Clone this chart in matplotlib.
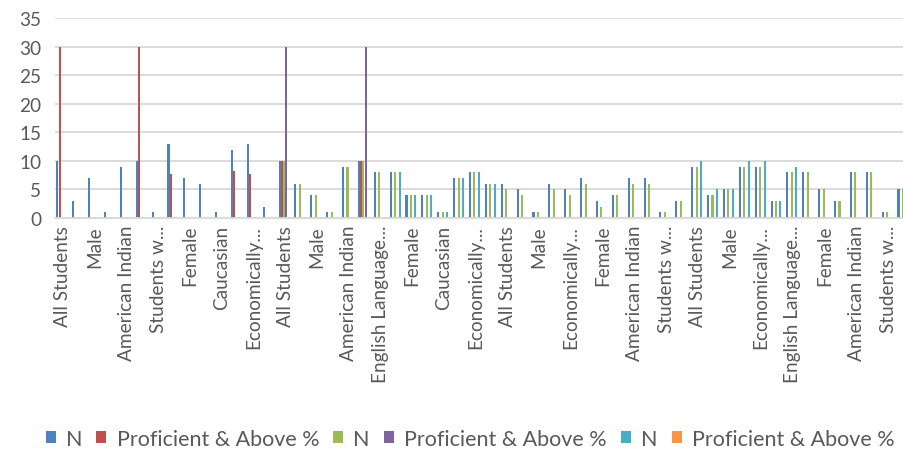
import numpy as np
import matplotlib
matplotlib.use("Agg")
import matplotlib.pyplot as plt
from matplotlib.patches import Patch

plt.rcParams['font.family'] = ['Lato', 'DejaVu Sans']

categories = [
    "All Students", "Female", "Male", "Hispanic", "American Indian", "All Students",
    "Students w...", "All Students", "Female", "Male", "Caucasian", "Students w...",
    "Economically...", "English Language...",
    "All Students", "Female", "Male", "Caucasian", "American Indian", "All Students",
    "English Language...", "All Students", "Female", "Male", "Caucasian", "Students w...",
    "Economically...", "English Language...",
    "All Students", "Female", "Male", "Caucasian", "Economically...", "All Students",
    "Female", "Male", "American Indian", "Caucasian", "Students w...", "Economically...",
    "All Students", "Female", "Male", "Caucasian", "Economically...", "Students w...",
    "English Language...", "All Students", "Female", "Male", "American Indian", "Caucasian",
    "Students w...", "Economically...",
]

nan = np.nan
n_blue = [10, 3, 7, 1, 9, 10, 1, 13, 7, 6, 1, 12, 13, 2,
          10, 6, 4, 1, 9, 10, 8, 8, 4, 4, 1, 7, 8, 6,
          6, 5, 1, 6, 5, 7, 3, 4, 7, 7, 1, 3,
          9, 4, 5, 9, 9, 3, 8, 8, 5, 3, 8, 8, 1, 5]
prof_red = [30, nan, nan, nan, nan, 30, nan, 7.7, nan, nan, nan, 8.3, 7.7, nan,
            10, nan, nan, nan, nan, 10] + [nan] * 34
n_green = [nan] * 14 + [10, 6, 4, 1, 9, 10, 8, 8, 4, 4, 1, 7, 8, 6,
                        5, 4, 1, 5, 4, 6, 2, 4, 6, 6, 1, 3,
                        9, 4, 5, 9, 9, 3, 8, 8, 5, 3, 8, 8, 1, 5]
prof_purple = [nan] * 14 + [30, nan, nan, nan, nan, 30] + [nan] * 34
n_cyan = ([nan] * 21 + [8, 4, 4, 1, 7, 8, 6] + [nan] * 12
          + [10, 5, 5, 10, 10, 3, 9] + [nan] * 7)
prof_orange = [nan] * 54

series = [
    ("N", n_blue, "#4F81BD"),
    ("Proficient & Above %", prof_red, "#C0504D"),
    ("N", n_green, "#9BBB59"),
    ("Proficient & Above %", prof_purple, "#8064A2"),
    ("N", n_cyan, "#4BACC6"),
    ("Proficient & Above %", prof_orange, "#F79646"),
]

W, H = 904, 456
fig = plt.figure(figsize=(W / 100, H / 100), dpi=100)
left_px, right_px = 55, 912
bottom_px, top_px = 219, 19.3
ax = fig.add_axes([left_px / W, 1 - bottom_px / H,
                   (right_px - left_px) / W, (bottom_px - top_px) / H])

x = np.arange(len(categories))
step = 0.14
bw = 0.13
for k, (name, vals, col) in enumerate(series):
    v = np.array(vals, dtype=float)
    ax.bar(x + (k - 2.5) * step, v, width=bw, color=col, linewidth=0)

ax.set_xlim(-0.5, len(categories) - 0.5)
ax.set_ylim(0, 35)
ax.set_yticks(np.arange(0, 36, 5))
ax.yaxis.grid(True, color="#D9D9D9", linewidth=1.3)
ax.set_axisbelow(True)
for s in ["top", "right", "left"]:
    ax.spines[s].set_visible(False)
ax.spines["bottom"].set_color("#D9D9D9")
ax.spines["bottom"].set_linewidth(1.3)

fs = 13.7
ax.set_xticks(x[::2])
ax.set_xticklabels(categories[::2], rotation=90, fontsize=fs, color="#595959")
ax.tick_params(axis="x", length=0, pad=5)
ax.tick_params(axis="y", length=0, labelsize=fs, labelcolor="#595959", pad=10)

handles = [Patch(facecolor=c, edgecolor="none") for _, _, c in series]
labels = [n for n, _, _ in series]
fig.legend(handles, labels, loc="center", bbox_to_anchor=(470 / W, 1 - 440 / H),
           ncol=6, frameon=False, handlelength=0.47, handleheight=0.47,
           handletextpad=0.47, columnspacing=0.65, labelcolor="#595959",
           prop={'family': ['Lato', 'DejaVu Sans'], 'size': 15.5})

fig.savefig("out.png", dpi=100)
